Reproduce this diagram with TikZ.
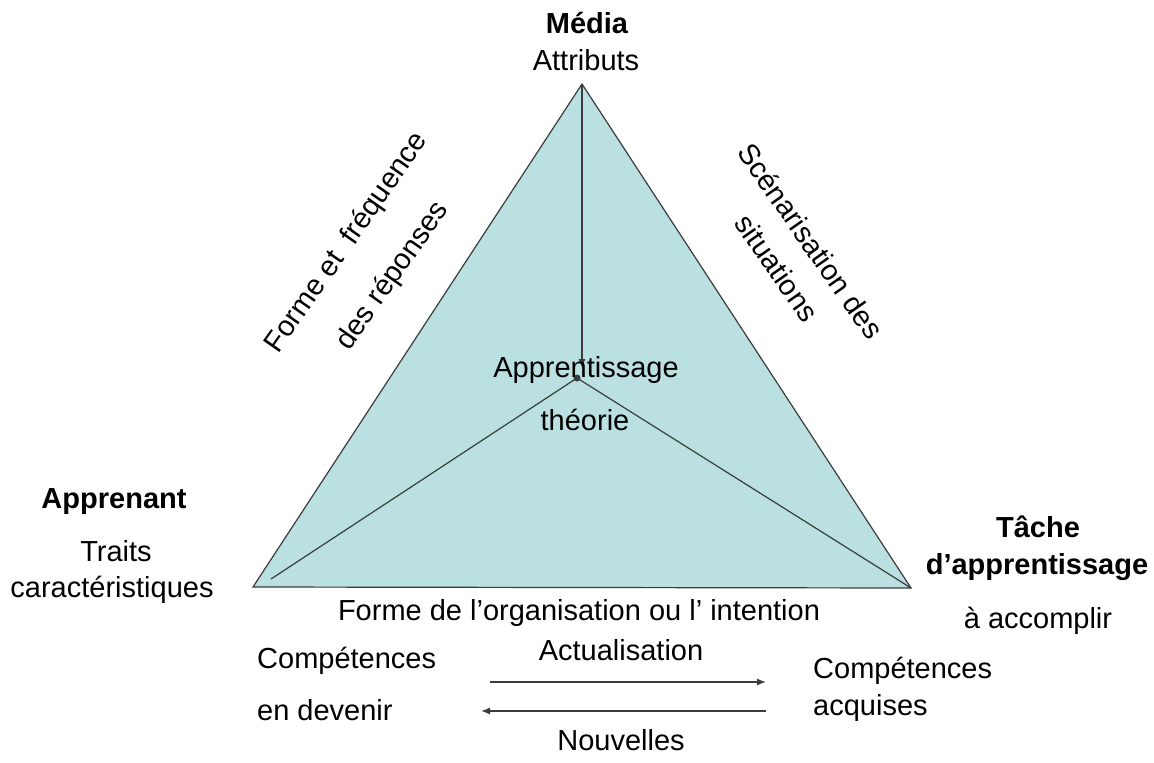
\documentclass[tikz,border=0pt]{standalone}
\usepackage{fontspec}
\setmainfont{Liberation Sans}
\usetikzlibrary{arrows.meta}
\definecolor{trifill}{RGB}{186,224,226}
\definecolor{linegray}{RGB}{60,60,60}
\begin{document}
\begin{tikzpicture}[x=1pt,y=-1pt,
  lbl/.style={font=\fontsize{29}{34}\selectfont, inner sep=0pt, anchor=base},
  blbl/.style={font=\fontsize{29}{34}\selectfont\bfseries, inner sep=0pt, anchor=base},
  rlbl/.style={font=\fontsize{29}{34}\selectfont, inner sep=0pt, anchor=center},
  edge/.style={draw=linegray, line width=1.2pt},
  arr/.style={draw=linegray, line width=1.3pt, -{Latex[length=9pt,width=7pt]}}]
\useasboundingbox (0,0) rectangle (1154,763);
\fill[white] (0,0) rectangle (1154,763);
% triangle
\coordinate (top) at (582,84);
\coordinate (bl) at (253,587);
\coordinate (br) at (911,588);
\coordinate (ctr) at (577,378);
\coordinate (inl) at (271,579);
\coordinate (tip) at (582,368);
\filldraw[fill=trifill, edge] (top) -- (bl) -- (br) -- cycle;
\draw[edge] (inl) -- (ctr) -- (br);
\draw[arr] (top) -- (tip);
\fill[linegray] (ctr) circle[radius=3.5];
% apex labels
\node[blbl] (media) at (587,33) {Média};
\node[lbl] (attr) at (586,70) {Attributs};
% inner labels
\node[lbl] (appr) at (586,377) {Apprentissage};
\node[lbl] (theo) at (585,430) {théorie};
% rotated side labels
\node[rlbl, rotate=55] (forme) at (347,243) {Forme et\ \ fréquence};
\node[rlbl, rotate=55] (rep) at (393,276) {des réponses};
\node[rlbl, rotate=-55] (scen) at (811,241) {Scénarisation des};
\node[rlbl, rotate=-55] (sit) at (777,268) {situations};
% left corner
\node[blbl] (apprenant) at (114,508) {Apprenant};
\node[lbl] (traits) at (116,561) {Traits};
\node[lbl] (caract) at (112,597) {caractéristiques};
% right corner
\node[blbl] (tache) at (1038,537) {Tâche};
\node[blbl] (dapp) at (1037,574) {d’apprentissage};
\node[lbl] (accomp) at (1038,628) {à accomplir};
% bottom
\node[lbl] (forg) at (579,620) {Forme de l’organisation ou l’ intention};
\node[lbl] (actu) at (621,660) {Actualisation};
\node[lbl, anchor=base west] (compl) at (257,668) {Compétences};
\node[lbl, anchor=base west] (endev) at (257,720) {en devenir};
\node[lbl, anchor=base west] (compr) at (813,678) {Compétences};
\node[lbl, anchor=base west] (acq) at (813,715) {acquises};
\node[lbl] (nouv) at (621,750) {Nouvelles};
\coordinate (a1s) at (490,682);
\coordinate (a1e) at (766,682);
\coordinate (a2s) at (766,711);
\coordinate (a2e) at (481,711);
\draw[arr] (a1s) -- (a1e);
\draw[arr] (a2s) -- (a2e);
\end{tikzpicture}
\end{document}
